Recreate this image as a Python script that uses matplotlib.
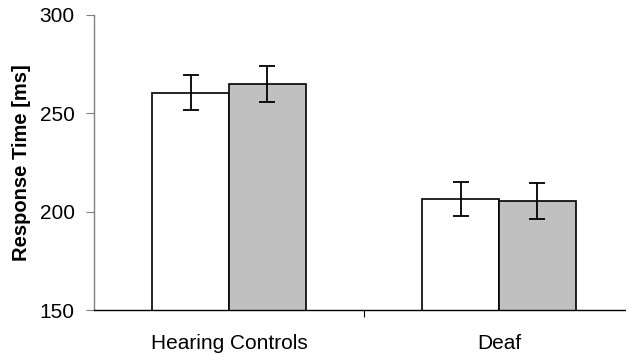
import numpy as np
import matplotlib.pyplot as plt

plt.rcParams['font.family'] = ['Liberation Sans', 'DejaVu Sans']

# === Dados ===
groups = ["Hearing Controls", "Deaf"]
white_vals = [260.5, 206.6]
white_err = [8.8, 8.7]
gray_vals = [264.9, 205.4]
gray_err = [9.2, 9.1]

# === Figura ===
fig = plt.figure(figsize=(6.26, 3.55), dpi=100)
ax = fig.add_axes([94/626, 45/355, 540/626, 295/355])

x = np.arange(len(groups))
w = 0.285
ekw = dict(elinewidth=1.3, capthick=1.3, ecolor='black')
ax.bar(x - w/2, white_vals, w, color='white', edgecolor='black',
       linewidth=1.2, yerr=white_err, capsize=5.5, error_kw=ekw, zorder=2)
ax.bar(x + w/2, gray_vals, w, color='#c0c0c0', edgecolor='black',
       linewidth=1.2, yerr=gray_err, capsize=5.5, error_kw=ekw, zorder=2)

ax.set_ylim(150, 300)
ax.set_xlim(-0.5, 1.5)
ax.set_yticks([150, 200, 250, 300])
ax.set_xticks(x)
ax.set_xticklabels(groups, fontsize=15)
ax.set_xticks([0.5], minor=True)
ax.tick_params(axis='x', which='major', length=0, pad=17)
ax.tick_params(axis='x', which='minor', length=5, width=0.8, direction='out')
ax.tick_params(axis='y', labelsize=15, length=6, width=0.8, color='#808080', pad=8)
ax.set_ylabel("Response Time [ms]", fontsize=14.5, fontweight='bold', labelpad=6)

ax.spines['top'].set_visible(False)
ax.spines['right'].set_visible(False)
ax.spines['left'].set_color('#808080')
ax.spines['left'].set_linewidth(1.0)
ax.spines['bottom'].set_linewidth(1.0)

fig.savefig('out.png', dpi=100)
